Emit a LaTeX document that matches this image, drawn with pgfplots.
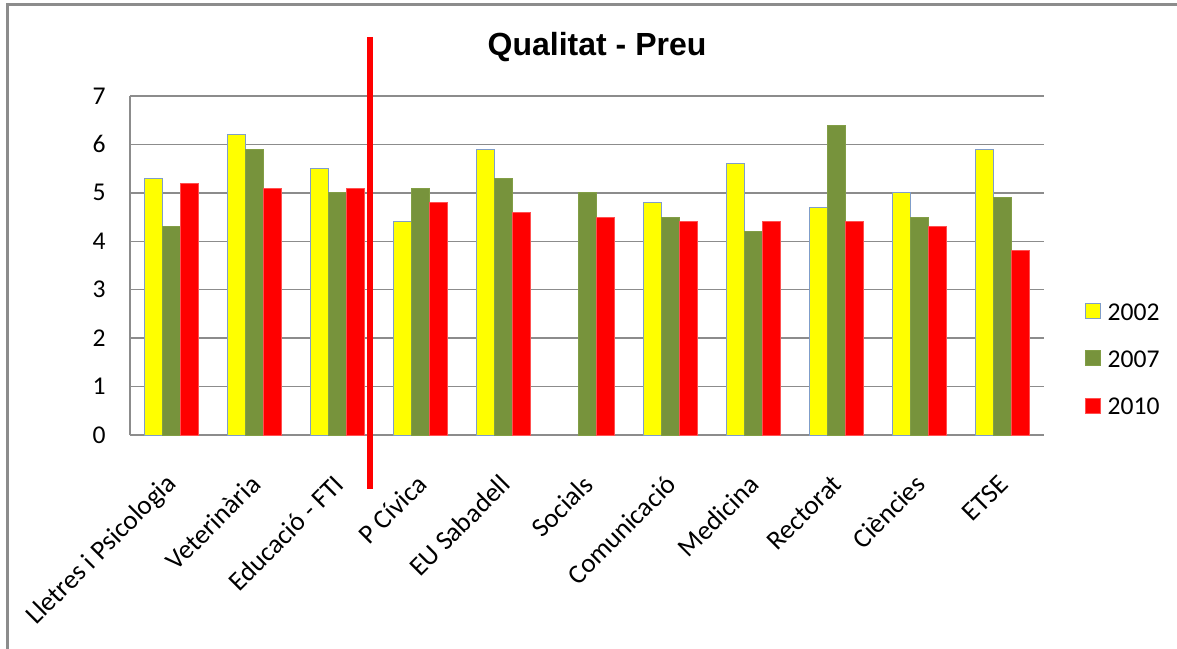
\documentclass[border=0pt]{standalone}
\usepackage{fontspec}
\setmainfont{Carlito}
\newfontfamily\titlefont{Liberation Sans}
\usepackage{pgfplots}
\pgfplotsset{compat=1.18}
\definecolor{c02}{HTML}{FFFF00}
\definecolor{c02e}{HTML}{7F9DC9}
\definecolor{c07}{HTML}{77933C}
\definecolor{c07e}{HTML}{829E46}
\definecolor{c10}{HTML}{FF0000}
\definecolor{c10e}{HTML}{FF5050}
\definecolor{gridc}{HTML}{8C8C8C}
\begin{document}
\begin{tikzpicture}
\useasboundingbox (0,0) rectangle (588.5pt,324pt);
\draw[black!45, line width=1.5pt] (3.5pt,-2pt) -- (3.5pt,321.5pt) -- (592pt,321.5pt);
\begin{axis}[
  at={(65pt,106.5pt)}, anchor=south west,
  width=457pt, height=169.5pt, scale only axis,
  ybar=0pt, bar width=9pt,
  xmin=-0.5, xmax=10.5, ymin=0, ymax=7,
  xtick={0,...,10},
  xticklabels={Lletres i Psicologia,Veterinària,Educació - FTI,P Cívica,EU Sabadell,Socials,Comunicació,Medicina,Rectorat,Ciències,ETSE},
  ytick={0,...,7},
  axis x line*=bottom, axis y line*=left,
  axis line style={gridc, line width=0.75pt},
  ymajorgrids, grid style={gridc, line width=0.75pt},
  major tick length=0pt,
  tick label style={font=\fontsize{12.8}{14}\selectfont, text=black},
  /pgf/number format/assume math mode=true,
  yticklabel style={xshift=-8.7pt},
  xticklabel style={xshift=3pt, yshift=-20pt, rotate=45, anchor=east, font=\fontsize{13.5}{15}\selectfont},
  clip=false,
  title={Qualitat - Preu},
  title style={at={(axis description cs:0.511,1.109)}, anchor=center, font=\fontsize{16}{18}\selectfont\titlefont\bfseries},
  legend style={draw=none, fill=none, at={(axis description cs:1.044,0.22)}, anchor=west,
    font=\fontsize{12.8}{14}\selectfont, inner sep=0pt, row sep=13.5pt,
    nodes={inner sep=0pt},
    /tikz/every odd column/.append style={column sep=3.5pt}},
  legend cell align=left,
  legend image code/.code={\draw[#1] (0pt,-2.5pt) rectangle (7.5pt,5pt);},
]
\addplot[fill=c02, draw=c02e, line width=0.5pt] coordinates {
 (0,5.3) (1,6.2) (2,5.5) (3,4.4) (4,5.9) (6,4.8) (7,5.6) (8,4.7) (9,5.0) (10,5.9)};
\addplot[fill=c07, draw=c07e, line width=0.5pt] coordinates {
 (0,4.3) (1,5.9) (2,5.0) (3,5.1) (4,5.3) (5,5.0) (6,4.5) (7,4.2) (8,6.4) (9,4.5) (10,4.9)};
\addplot[fill=c10, draw=c10e, line width=0.5pt] coordinates {
 (0,5.2) (1,5.1) (2,5.1) (3,4.8) (4,4.6) (5,4.5) (6,4.4) (7,4.4) (8,4.4) (9,4.3) (10,3.8)};
\legend{2002,2007,2010}
\draw[red, line width=3pt] (axis cs:2.385,8.22) -- (axis cs:2.385,-1.115);
\end{axis}
\end{tikzpicture}
\end{document}
